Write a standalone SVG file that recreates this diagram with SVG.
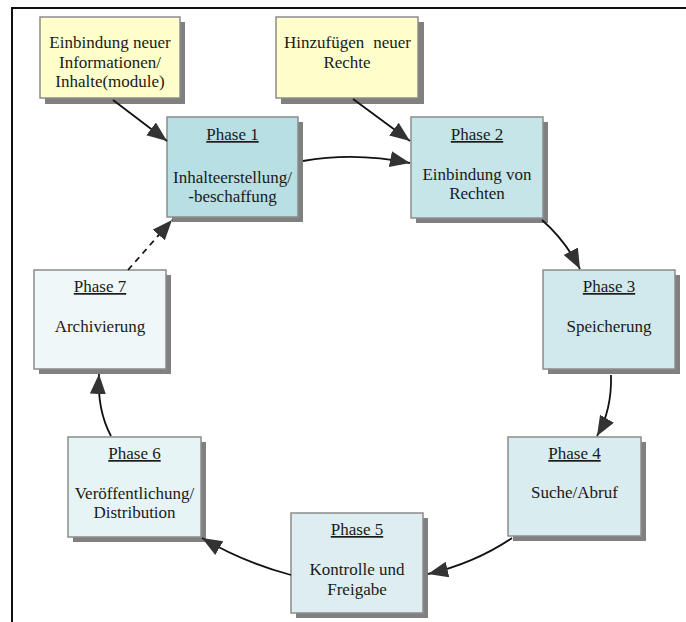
<svg xmlns="http://www.w3.org/2000/svg" width="686" height="622" viewBox="0 0 686 622">
<defs>
<style>
.shadow{fill:#808080}
.box{stroke:#8c8c8c;stroke-width:1.5}
.y{fill:#ffffcc}
text{font-family:'Liberation Serif','Times New Roman','DejaVu Serif',serif;font-size:17px;fill:#1a1a1a;text-anchor:middle}
.ph{text-decoration:underline}
.con{fill:none;stroke:#111;stroke-width:1.8;marker-end:url(#ah)}
.dash{stroke-dasharray:6,5}
</style>
<marker id="ah" markerUnits="userSpaceOnUse" markerWidth="22" markerHeight="18" refX="20" refY="8" orient="auto">
<path d="M0,0 L20,8 L0,16 z" fill="#333"/>
</marker>
</defs>
<rect x="0" y="0" width="686" height="622" fill="#fff"/>
<path d="M12,622 L12,8 L686,8" fill="none" stroke="#111" stroke-width="2"/>

<g id="info" font-family="Liberation Serif, serif">
<rect class="shadow" x="45" y="22" width="140" height="82"/>
<rect class="box y" x="40" y="17" width="140" height="81"/>
<text x="110" y="48">Einbindung neuer</text>
<text x="110" y="68">Informationen/</text>
<text x="110" y="87">Inhalte(module)</text>
</g>
<g id="rechte">
<rect class="shadow" x="281" y="22" width="143" height="82"/>
<rect class="box y" x="276" y="17" width="142" height="81"/>
<text x="284" y="48" style="text-anchor:start">Hinzufügen</text>
<text x="411" y="48" style="text-anchor:end">neuer</text>
<text x="347" y="68">Rechte</text>
</g>
<g id="phase1">
<rect class="shadow" x="172" y="122" width="131" height="100"/>
<rect class="box" fill="#b8dfe3" x="167" y="117" width="131" height="100"/>
<text class="ph" x="232.5" y="140">Phase 1</text>
<text x="232.5" y="183">Inhalteerstellung/</text>
<text x="232.5" y="202">-beschaffung</text>
</g>
<g id="phase2">
<rect class="shadow" x="416" y="122" width="132" height="101"/>
<rect class="box" fill="#c5e5e8" x="411" y="117" width="132" height="101"/>
<text class="ph" x="477" y="140">Phase 2</text>
<text x="477" y="180">Einbindung von</text>
<text x="477" y="199">Rechten</text>
</g>
<g id="phase3">
<rect class="shadow" x="548" y="275" width="132" height="99"/>
<rect class="box" fill="#d1e9ec" x="543" y="270" width="132" height="99"/>
<text class="ph" x="609" y="292">Phase 3</text>
<text x="609" y="332">Speicherung</text>
</g>
<g id="phase4">
<rect class="shadow" x="513" y="442" width="133" height="99"/>
<rect class="box" fill="#d9ecef" x="508" y="437" width="133" height="99"/>
<text class="ph" x="574.5" y="459">Phase 4</text>
<text x="574.5" y="498">Suche/Abruf</text>
</g>
<g id="phase5">
<rect class="shadow" x="296" y="518" width="132" height="100"/>
<rect class="box" fill="#deedf0" x="291" y="513" width="132" height="100"/>
<text class="ph" x="357" y="535">Phase 5</text>
<text x="357" y="575">Kontrolle und</text>
<text x="357" y="595">Freigabe</text>
</g>
<g id="phase6">
<rect class="shadow" x="73" y="442" width="133" height="100"/>
<rect class="box" fill="#e7f4f5" x="68" y="437" width="133" height="100"/>
<text class="ph" x="134.5" y="459">Phase 6</text>
<text x="134.5" y="499">Veröffentlichung/</text>
<text x="134.5" y="518">Distribution</text>
</g>
<g id="phase7">
<rect class="shadow" x="39" y="275" width="132" height="99"/>
<rect class="box" fill="#eff7f8" x="34" y="270" width="132" height="99"/>
<text class="ph" x="100" y="292">Phase 7</text>
<text x="100" y="332">Archivierung</text>
</g>

<g id="connectors">
<path class="con" d="M113,100 L167,141"/>
<path class="con" d="M353,99 L410,141"/>
<path class="con" d="M303,161 Q355,152 410,163"/>
<path class="con" d="M542,220 Q565,240 580,269"/>
<path class="con" d="M611,375 Q612,410 597,436"/>
<path class="con" d="M512,538 Q475,563 428,574"/>
<path class="con" d="M291,575 Q245,563 202,538"/>
<path class="con" d="M111,436 Q97,410 99,374"/>
<path class="con dash" d="M128,270 L172,220"/>
</g>
</svg>
